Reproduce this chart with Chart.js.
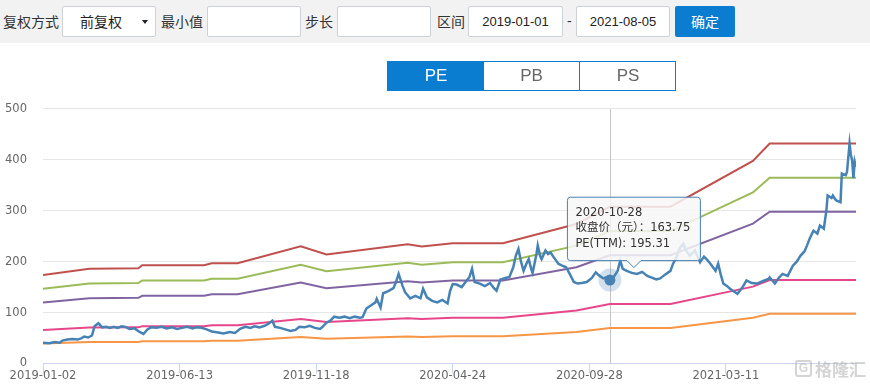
<!DOCTYPE html>
<html>
<head>
<meta charset="utf-8">
<script src="https://cdn.jsdelivr.net/npm/chart.js@4.4.1/dist/chart.umd.min.js"></script>
<style>
  html,body{margin:0;padding:0;background:#fff;width:870px;height:387px;overflow:hidden;
    font-family:"Noto Sans CJK SC","Liberation Sans",sans-serif;}
  #bar{position:absolute;left:0;top:0;width:870px;height:43px;background:#f2f2f2;}
  .lbl{position:absolute;top:6px;height:31px;line-height:31px;font-size:14px;color:#333;white-space:nowrap;}
  .box{position:absolute;top:6px;height:29px;background:#fff;border:1px solid #cdd1d8;border-radius:2px;
    line-height:29px;font-size:13px;color:#222;text-align:center;font-family:"Liberation Sans",sans-serif;}
  .sel{position:absolute;top:6px;left:62px;width:92px;height:29px;background:#fff;border:1px solid #cdd1d8;border-radius:2px;}
  .sel span{position:absolute;left:17px;top:0;line-height:29px;font-size:14px;color:#222;}
  .sel i{position:absolute;left:79px;top:13px;width:0;height:0;border-left:3.5px solid transparent;border-right:3.5px solid transparent;border-top:4px solid #222;}
  .btn{position:absolute;left:675px;top:6px;width:60px;height:31px;background:#0a7dd0;border-radius:2px;color:#fff;
    font-size:14px;line-height:31px;text-align:center;}
  #tabs{position:absolute;left:387px;top:61px;width:287px;height:28px;border:1px solid #0a7dd0;}
  .tab{position:absolute;top:0;height:28px;line-height:28px;text-align:center;font-size:17px;color:#666;font-family:"Liberation Sans",sans-serif;}
  #wrap{position:absolute;left:0;top:86px;width:870px;height:301px;}
  #wm{position:absolute;left:795px;top:359px;height:20px;color:rgba(170,170,170,0.5);font-size:17px;font-weight:bold;line-height:20px;white-space:nowrap;}
  #wm b{display:inline-block;width:17px;height:17px;border:2px solid rgba(170,170,170,0.5);border-radius:3px;box-sizing:border-box;
    font-size:12px;line-height:13px;text-align:center;vertical-align:top;margin-right:3px;margin-top:1px;font-family:"Liberation Sans",sans-serif;}
</style>
</head>
<body>
<div id="bar">
  <div class="lbl" style="left:3px">复权方式</div>
  <div class="sel"><span>前复权</span><i></i></div>
  <div class="lbl" style="left:161px">最小值</div>
  <div class="box" style="left:207px;width:92px"></div>
  <div class="lbl" style="left:305px">步长</div>
  <div class="box" style="left:337px;width:92px"></div>
  <div class="lbl" style="left:437px">区间</div>
  <div class="box" style="left:468px;width:93px">2019-01-01</div>
  <div class="lbl" style="left:567px;font-family:'Liberation Sans',sans-serif;">-</div>
  <div class="box" style="left:576px;width:92px">2021-08-05</div>
  <div class="btn">确定</div>
</div>
<div id="wrap"><canvas id="c" width="870" height="301"></canvas></div>
<div id="tabs">
  <div class="tab" style="left:0;width:96px;background:#0a7dd0;color:#fff;">PE</div>
  <div class="tab" style="left:96px;width:95px;">PB</div>
  <div class="tab" style="left:191px;width:96px;border-left:1px solid #0a7dd0;">PS</div>
</div>
<div id="wm"><b>G</b>格隆汇</div>
<script>
// ---- axis ticks (trading-day index) ----
const tickIdx = [0, 106, 212, 318, 424, 530];
const tickLabels = ['2019-01-02', '2019-06-13', '2019-11-18', '2020-04-24', '2020-09-28', '2021-03-11'];
const lastIdx = 631;

// ---- PE band lines (price levels at breakpoints) ----
const bandIdx = [0, 36, 74, 77, 125, 131, 151, 200, 220, 283, 294, 318, 357, 414, 440, 487, 551, 564, 631];
const bandMax  = [174, 186, 187, 193, 193, 197, 197, 230, 214, 234, 230, 236, 236, 274, 308, 308, 398, 432, 432];
const bandHigh = [147, 157, 158, 163, 163, 166.5, 166.5, 194, 181, 198, 194, 199, 199, 231.5, 260, 260, 336, 365, 365];
const bandMid  = [120, 128, 129, 133, 133, 136, 136, 159, 148, 161.5, 159, 163, 163, 189, 212.5, 212.5, 274.6, 298, 298];
const bandLow  = [66, 70.7, 71, 73.3, 73.3, 74.9, 74.9, 87.4, 81.3, 88.9, 87.4, 89.7, 89.7, 104, 117, 117, 151, 164, 164];
const bandMin  = [39.3, 42, 42.3, 43.6, 43.6, 44.5, 44.5, 52, 48.4, 52.9, 52, 53.3, 53.3, 62, 69.6, 69.6, 90, 97.6, 97.6];

// ---- close price ----
const priceIdx = [0,5,9,13,15,19,23,27,30,32,35,38,40,43,46,49,52,55,58,61,64,67,71,75,78,81,84,88,92,96,100,104,108,112,116,119,123,127,131,136,140,145,149,153,157,161,164,168,172,175,178,180,184,188,192,196,199,203,207,211,215,217,220,223,226,230,234,238,242,246,248,251,255,258,259,262,264,268,272,274,276,279,281,285,289,293,295,298,302,306,310,314,316,318,321,325,328,331,333,335,339,343,347,350,352,355,359,362,365,367,369,371,373,375,377,379,380,383,384,386,387,390,392,394,396,398,400,403,406,409,412,415,418,422,426,429,432,435,438,440,443,446,448,450,453,457,461,465,469,473,476,479,483,487,489,491,494,497,499,502,506,510,513,515,518,522,524,526,528,531,533,536,539,543,546,550,554,559,563,564,568,571,574,578,582,585,588,591,593,595,598,601,603,606,608,609,612,613,615,616,619,620,623,624,626,627,628,629,630,631];
const priceVal = [41,40,42,41,45,47,48,47,50,53,51,55,73,79,71,72,70,72,70,73,72,68,69,62,58,67,71,70,72,69,71,68,70,72,69,71,70,67,63,61,59,62,60,68,72,70,73,71,74,78,84,72,70,67,64,66,72,71,74,70,68,72,80,84,92,90,92,89,92,90,91,108,115,120,127,110,138,142,148,160,176,153,140,128,133,128,147,130,123,120,125,118,143,156,155,150,160,170,186,160,157,152,158,148,143,165,168,170,189,212,225,200,182,195,205,185,178,215,232,210,205,222,215,218,210,203,196,192,189,175,160,157,158,160,168,179,172,167,170,163.75,170,182,202,186,182,178,176,180,172,168,165,167,175,182,196,205,225,235,222,212,222,199,210,205,196,182,196,175,157,152,147,142,137,150,163,158,157,162,166,169,157,168,176,172,192,200,212,220,232,245,261,255,271,265,300,330,325,330,322,320,317,373,370,376,432,410,399,364,396,386];

// ---- tooltip point ----
const activeIdx = 440;
const activeDate = '2020-10-28';
const activePE = 195.31;

const FONT = '"DejaVu Sans","Noto Sans CJK SC",sans-serif';
Chart.defaults.font.family = FONT;
Chart.defaults.font.size = 11.5;
Chart.defaults.color = '#666';

const toXY = (xs, ys) => xs.map((x, i) => ({x: x, y: ys[i]}));

Chart.Tooltip.positioners.tipAbove = function (items) {
  if (!items.length) return false;
  const el = items[0].element;
  return {x: el.x + 24, y: el.y - 12.5, xAlign: 'center', yAlign: 'bottom'};
};

const crosshair = {
  id: 'crosshair',
  beforeDatasetsDraw(chart) {
    const ctx = chart.ctx;
    const x = Math.round(chart.scales.x.getPixelForValue(activeIdx)) + 0.5;
    const {top, bottom} = chart.chartArea;
    ctx.save();
    ctx.strokeStyle = '#c4c4c4';
    ctx.lineWidth = 1;
    ctx.beginPath();
    ctx.moveTo(x, top);
    ctx.lineTo(x, bottom);
    ctx.stroke();
    ctx.restore();
  }
};

const bandStyle = (label, xs, ys, color) => ({
  label: label, data: toXY(xs, ys), borderColor: color, backgroundColor: color,
  borderWidth: 2, pointRadius: 0, pointHoverRadius: 0, tension: 0, fill: false
});

const chart = new Chart(document.getElementById('c'), {
  type: 'line',
  data: {
    datasets: [
      {
        label: '收盘价（元）', data: toXY(priceIdx, priceVal),
        borderColor: '#4682b4', backgroundColor: '#4682b4', borderWidth: 2.5,
        pointRadius: 0, pointHoverRadius: 5.5, pointHoverBorderWidth: 12,
        pointHoverBackgroundColor: '#4682b4', pointHoverBorderColor: 'rgba(70,130,180,0.25)',
        tension: 0, fill: false
      },
      bandStyle('PE最大值', bandIdx, bandMax, '#c0504d'),
      bandStyle('PE高位', bandIdx, bandHigh, '#9bbb59'),
      bandStyle('PE中位', bandIdx, bandMid, '#8064a2'),
      bandStyle('PE低位', bandIdx, bandLow, '#e6478a'),
      bandStyle('PE最小值', bandIdx, bandMin, '#f79646')
    ]
  },
  options: {
    responsive: false,
    animation: false,
    devicePixelRatio: 1,
    events: [],
    layout: {padding: {top: 4, right: 14, left: 0, bottom: 0}},
    scales: {
      x: {
        type: 'linear', min: 0, max: lastIdx,
        afterBuildTicks: (s) => { s.ticks = tickIdx.map(v => ({value: v})); },
        afterFit: (s) => { s.height = 23.5; },
        ticks: {
          autoSkip: false, maxRotation: 0, padding: -4.5, color: '#666',
          callback: (v) => { const i = tickIdx.indexOf(v); return i >= 0 ? tickLabels[i] : ''; }
        },
        grid: {display: true, drawOnChartArea: false, drawTicks: true, tickLength: 10, color: '#ccd6eb'},
        border: {display: true, color: '#ccd6eb', width: 1}
      },
      y: {
        min: 0, max: 500,
        afterFit: (s) => { s.width = 43; },
        ticks: {stepSize: 100, padding: 16, color: '#666'},
        grid: {color: '#e6e6e6', drawTicks: false},
        border: {display: false}
      }
    },
    plugins: {
      legend: {display: false},
      tooltip: {
        enabled: true, position: 'tipAbove', xAlign: 'center', yAlign: 'bottom',
        filter: (item) => item.datasetIndex === 0,
        backgroundColor: 'rgba(247,247,247,0.85)', borderColor: '#4682b4', borderWidth: 1,
        cornerRadius: 3, caretSize: 7, caretPadding: 0, displayColors: false,
        titleColor: '#333', bodyColor: '#333',
        titleFont: {family: FONT, size: 11.5, weight: 'normal'},
        bodyFont: {family: FONT, size: 11.5, weight: 'normal'},
        titleMarginBottom: 1.5, bodySpacing: 1.5,
        padding: {top: 9, bottom: 10, left: 8, right: 10},
        callbacks: {
          title: () => activeDate,
          label: (ctx) => ['收盘价（元）：' + ctx.parsed.y.toFixed(2), 'PE(TTM): ' + activePE.toFixed(2)]
        }
      }
    }
  },
  plugins: [crosshair]
});

const ai = priceIdx.indexOf(activeIdx);
const el = chart.getDatasetMeta(0).data[ai];
chart.setActiveElements([{datasetIndex: 0, index: ai}]);
chart.tooltip.setActiveElements([{datasetIndex: 0, index: ai}], {x: el.x, y: el.y});
chart.update();
</script>
</body>
</html>
